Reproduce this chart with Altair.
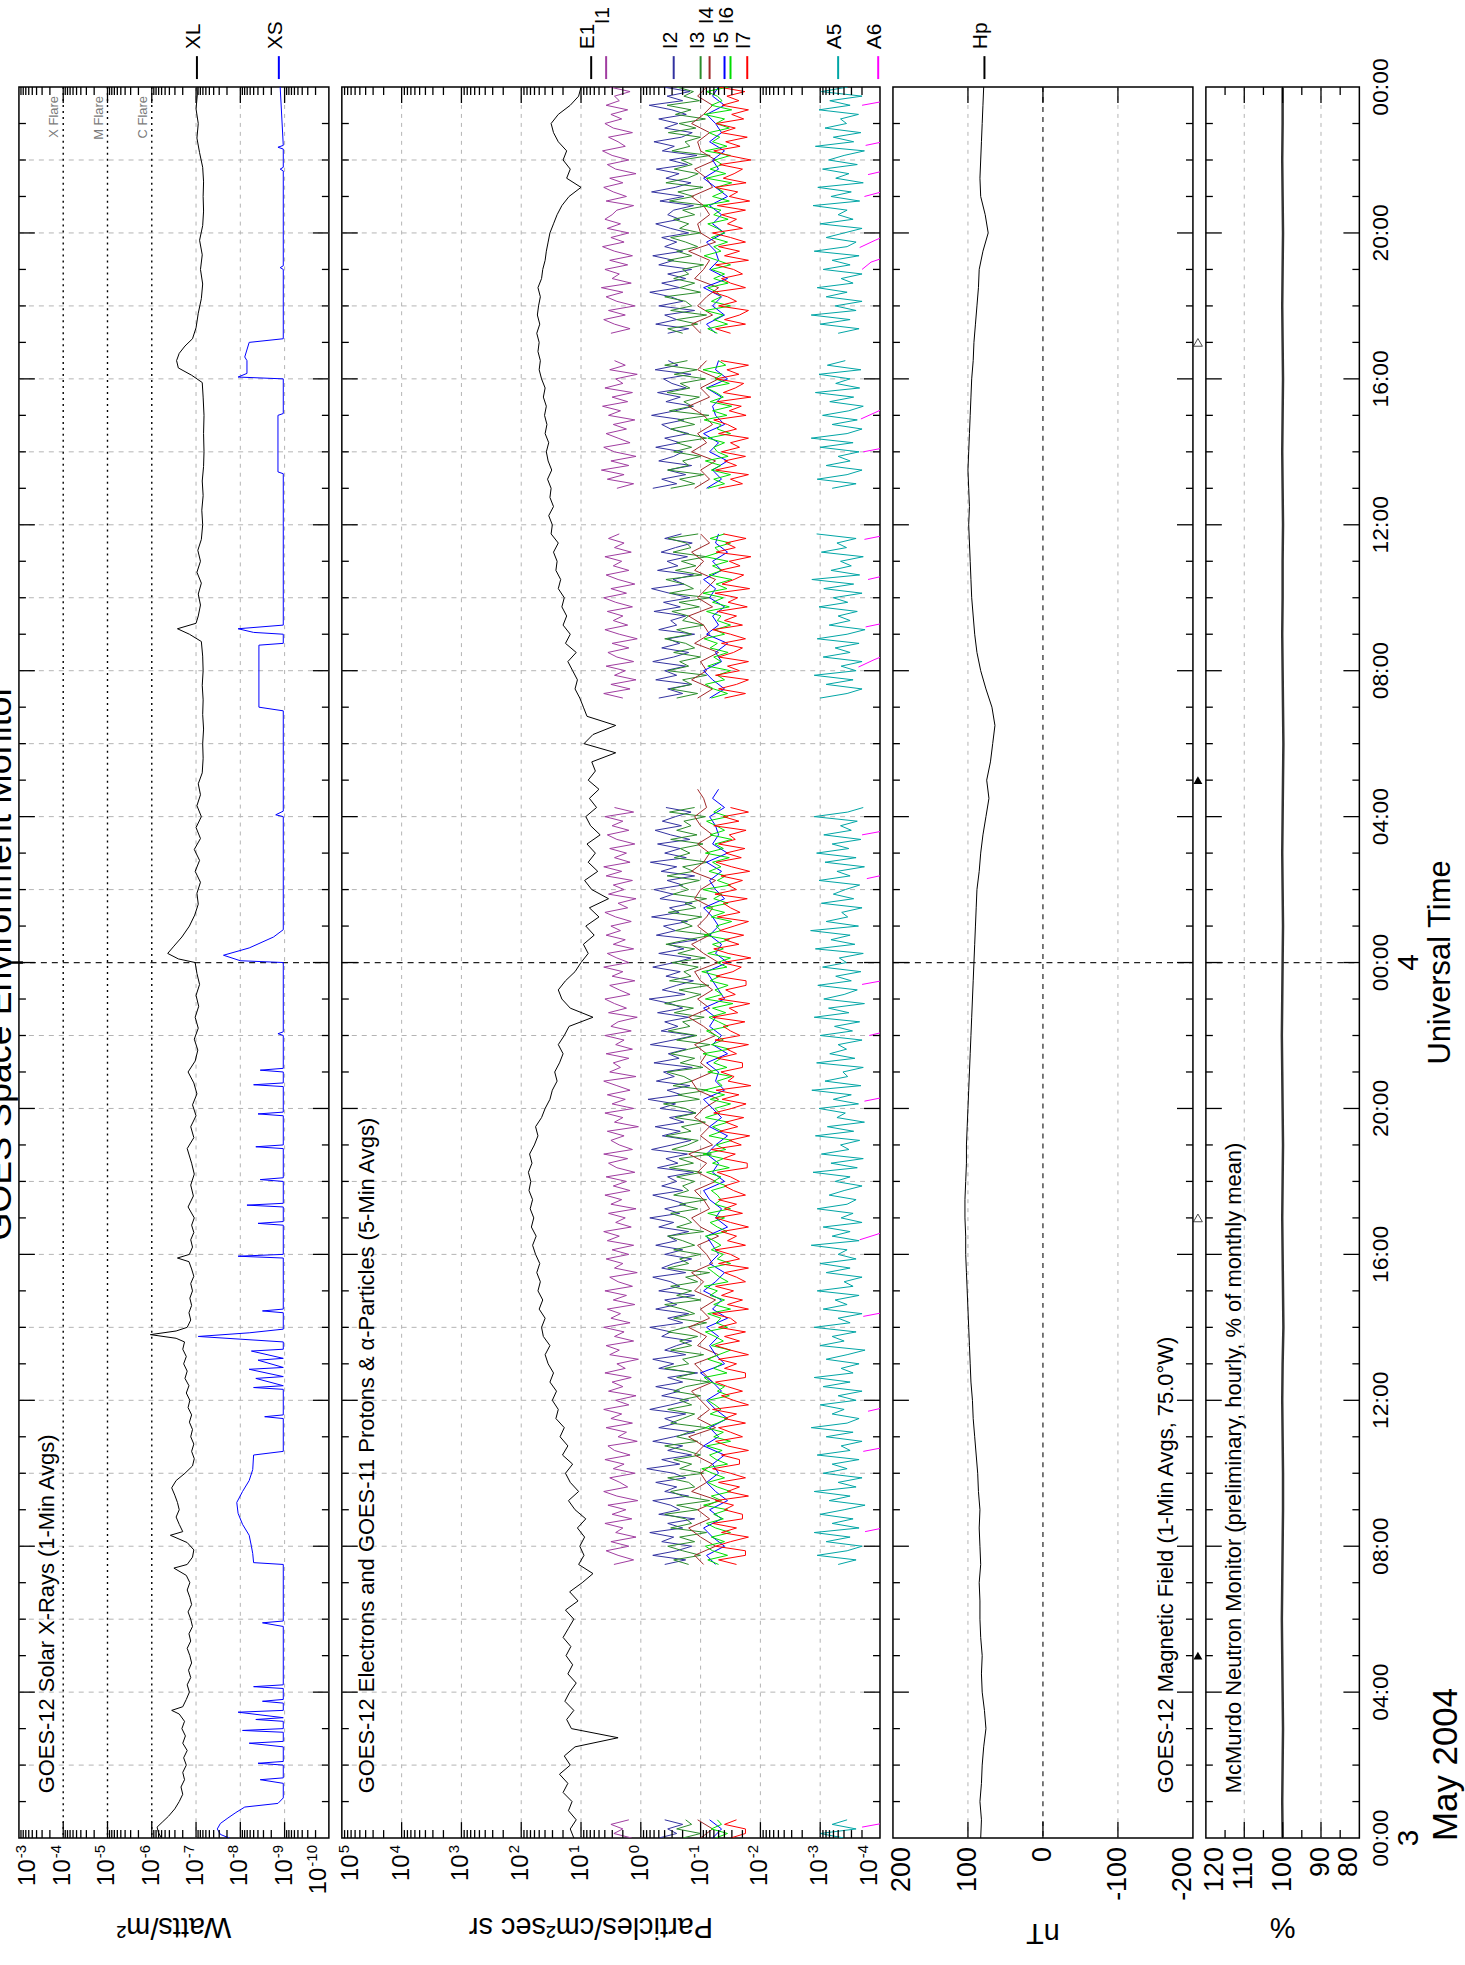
import altair as alt
import pandas as pd

FONT = "Liberation Sans"
H = 1757
W1, W2, W3, W4 = 311, 540, 301, 154

# ------------------------------------------------------------------ texts
TITLE = "GOES Space Environment Monitor"
PANEL_TEXT = ["GOES-12 Solar X-Rays (1-Min Avgs)",
              "GOES-12 Electrons and GOES-11 Protons & \u03b1-Particles (5-Min Avgs)",
              "GOES-12 Magnetic Field (1-Min Avgs, 75.0\u00b0W)",
              "McMurdo Neutron Monitor (preliminary, hourly, % of monthly mean)"]
AXIS_TITLES = ["Watts/m\u00b2", "Particles/cm\u00b2sec sr", "nT", "%"]
TIME_TICKS = [0, 4, 8, 12, 16, 20, 24, 28, 32, 36, 40, 44, 48]
TIME_LABELS = ["00:00", "04:00", "08:00", "12:00", "16:00", "20:00", "00:00",
               "04:00", "08:00", "12:00", "16:00", "20:00", "00:00"]
DAY_T = [0, 24]
DAY_LABELS = ["3", "4"]
MONTH_LABEL = "May 2004"
TIME_TITLE = "Universal Time"
XRAY_EXP = [-3, -4, -5, -6, -7, -8, -9, -10]
PART_EXP = [5, 4, 3, 2, 1, 0, -1, -2, -3, -4]
MAG_LABELS = [200, 100, 0, -100, -200]
NM_LABELS = [120, 110, 100, 90, 80]
FLARE_NAMES = ["X Flare", "M Flare", "C Flare"]
FLARE_EXP = [-4, -5, -6]

# ------------------------------------------------------------------ data
# time in hours after 2004-05-03 00:00 UT ; x-ray values are log10(W/m2)
XL = [(0.0,-6.22),(0.15,-6.15),(0.3,-6.12),(0.45,-6.25),(0.6,-6.38),(0.8,-6.52),(1.0,-6.62),(1.2,-6.70),
      (1.4,-6.66),(1.6,-6.74),(1.8,-6.70),(2.0,-6.78),(2.2,-6.72),(2.4,-6.80),(2.6,-6.70),(2.8,-6.76),
      (3.0,-6.68),(3.2,-6.74),(3.4,-6.62),(3.5,-6.45),(3.6,-6.70),(3.8,-6.78),(4.0,-6.85),(4.2,-6.80),
      (4.4,-6.88),(4.6,-6.83),(4.8,-6.90),(5.0,-6.86),(5.2,-6.80),(5.4,-6.88),(5.6,-6.84),(5.8,-6.92),
      (6.0,-6.88),(6.2,-6.82),(6.4,-6.90),(6.6,-6.86),(6.8,-6.80),(7.0,-6.86),(7.2,-6.78),(7.4,-6.50),
      (7.5,-6.80),(7.7,-6.92),(7.9,-6.95),(8.1,-6.80),(8.3,-6.42),(8.4,-6.70),(8.6,-6.62),(8.8,-6.55),
      (9.0,-6.62),(9.2,-6.58),(9.4,-6.52),(9.6,-6.45),(9.8,-6.55),(10.0,-6.75),(10.2,-6.92),(10.4,-6.96),
      (10.6,-6.90),(10.8,-6.95),(11.0,-6.88),(11.2,-6.92),(11.4,-6.85),(11.6,-6.90),(11.8,-6.82),(12.0,-6.86),
      (12.2,-6.78),(12.4,-6.84),(12.6,-6.75),(12.8,-6.80),(13.0,-6.72),(13.2,-6.78),(13.4,-6.70),(13.6,-6.74),
      (13.7,-6.55),(13.8,-5.97),(13.9,-6.55),(14.0,-6.80),(14.2,-6.88),(14.4,-6.84),(14.6,-6.90),(14.8,-6.86),
      (15.0,-6.92),(15.2,-6.88),(15.4,-6.95),(15.6,-6.90),(15.8,-6.84),(15.9,-6.58),(16.0,-6.85),(16.2,-6.92),
      (16.4,-6.88),(16.6,-6.95),(16.8,-6.90),(17.0,-6.96),(17.3,-6.82),(17.6,-6.94),(17.9,-6.88),(18.2,-6.96),
      (18.5,-6.90),(18.9,-6.80),(19.2,-6.95),(19.5,-6.88),(19.8,-7.00),(20.1,-6.92),(20.4,-7.02),(20.7,-6.95),
      (21.0,-6.82),(21.3,-6.98),(21.6,-7.04),(21.9,-6.96),(22.2,-7.05),(22.5,-6.98),(22.8,-7.06),(23.1,-7.00),
      (23.4,-7.08),(23.7,-7.02),(24.0,-6.98),(24.1,-6.60),(24.25,-6.36),(24.45,-6.50),(24.7,-6.68),(25.0,-6.85),
      (25.3,-6.97),(25.6,-7.05),(25.9,-7.02),(26.2,-7.10),(26.5,-6.98),(26.8,-7.08),(27.1,-6.96),(27.4,-7.10),
      (27.7,-7.00),(28.0,-7.12),(28.3,-7.02),(28.6,-7.10),(28.9,-7.05),(29.2,-7.14),(29.6,-7.16),(30.0,-7.15),
      (30.4,-7.17),(30.8,-7.15),(31.2,-7.16),(31.6,-7.14),(32.0,-7.16),(32.4,-7.15),(32.8,-7.12),(33.0,-6.85),
      (33.15,-6.58),(33.3,-7.00),(33.5,-7.05),(33.8,-7.10),(34.1,-7.05),(34.4,-7.12),(34.7,-7.02),(35.0,-7.10),
      (35.3,-7.04),(35.6,-7.12),(36.0,-7.15),(36.4,-7.13),(36.8,-7.16),(37.2,-7.14),(37.6,-7.17),(38.0,-7.18),
      (38.5,-7.17),(39.0,-7.18),(39.5,-7.16),(39.9,-7.14),(40.1,-6.90),(40.3,-6.60),(40.5,-6.56),(40.7,-6.62),
      (40.9,-6.75),(41.1,-6.92),(41.4,-7.00),(41.8,-7.05),(42.2,-7.12),(42.6,-7.15),(43.0,-7.10),(43.4,-7.14),
      (43.8,-7.08),(44.2,-7.15),(44.6,-7.17),(45.0,-7.16),(45.4,-7.17),(45.8,-7.15),(46.2,-7.08),(46.6,-7.02),
      (47.0,-7.05),(47.4,-7.00),(47.8,-7.03),(48.0,-7.02)]

XS = [(0.0,-7.75),(0.1,-7.55),(0.25,-7.48),(0.4,-7.55),(0.55,-7.72),(0.7,-7.90),(0.85,-8.10),(0.95,-8.85),
      (1.1,-8.97),(1.5,-8.97),(1.6,-8.45),(1.65,-8.97),(2.0,-8.97),(2.05,-8.40),(2.1,-8.97),(2.5,-8.97),
      (2.6,-8.20),(2.65,-8.97),(2.9,-8.97),(2.95,-8.05),(3.0,-8.97),(3.2,-8.97),(3.25,-8.35),(3.3,-8.97),
      (3.45,-7.95),(3.5,-8.97),(3.7,-8.97),(3.75,-8.50),(3.8,-8.97),(4.1,-8.97),(4.15,-8.30),(4.2,-8.97),
      (5.8,-8.97),(5.9,-8.50),(5.95,-8.97),(7.5,-8.97),(7.55,-8.30),(7.8,-8.28),(8.0,-8.25),(8.3,-8.20),
      (8.6,-8.05),(8.9,-7.95),(9.2,-7.92),(9.5,-8.05),(9.8,-8.20),(10.1,-8.28),(10.5,-8.30),(10.6,-8.97),
      (11.5,-8.97),(11.55,-8.55),(11.6,-8.97),(12.3,-8.97),(12.35,-8.30),(12.4,-8.97),(12.6,-8.35),(12.65,-8.97),
      (12.85,-8.20),(12.9,-8.97),(13.1,-8.40),(13.15,-8.97),(13.35,-8.25),(13.4,-8.97),(13.6,-8.97),(13.75,-7.05),
      (13.85,-8.20),(13.95,-8.97),(14.4,-8.97),(14.45,-8.50),(14.5,-8.97),(15.9,-8.97),(15.95,-7.95),(16.0,-8.97),
      (16.8,-8.97),(16.85,-8.40),(16.9,-8.97),(17.3,-8.97),(17.35,-8.15),(17.4,-8.97),(18.0,-8.97),(18.05,-8.45),
      (18.1,-8.97),(18.9,-8.97),(18.95,-8.35),(19.0,-8.97),(19.8,-8.97),(19.85,-8.40),(19.9,-8.97),(20.6,-8.97),
      (20.65,-8.30),(20.7,-8.97),(21.0,-8.97),(21.05,-8.45),(21.1,-8.97),(22.0,-8.97),(22.05,-8.85),(22.1,-8.97),
      (24.0,-8.97),(24.05,-8.00),(24.2,-7.62),(24.4,-8.20),(24.7,-8.75),(24.9,-8.97),(28.0,-8.97),(28.05,-8.80),
      (28.15,-8.97),(30.9,-8.97),(31.0,-8.42),(32.7,-8.42),(32.75,-8.97),(33.0,-8.97),(33.05,-8.30),(33.15,-7.95),
      (33.25,-8.97),(37.4,-8.97),(37.45,-8.85),(39.0,-8.85),(39.05,-8.97),(40.0,-8.97),(40.05,-7.95),(40.15,-8.15),
      (40.5,-8.15),(40.6,-8.10),(41.0,-8.20),(41.1,-8.97),(43.0,-8.97),(43.05,-8.90),(43.1,-8.97),(45.7,-8.97),
      (45.75,-8.90),(45.8,-8.97),(46.3,-8.97),(46.35,-8.85),(46.4,-8.97),(48.0,-8.90)]

# particle fluxes: log10 x 100
E1_STEP = 0.25
E1 = [112,118,108,121, 115,130,122,136, 118,128,110,38, 116,124,112,127, 119,108,122,114, 125,117,130,121,
      112,126,105,119, 98,80,104,95, 102,94,106,92, 110,121,104,118, 126,114,131,122, 135,128,142,138,
      148,141,152,146, 155,160,152,163, 166,160,170,164, 172,168,174,169, 176,181,175,183, 179,185,181,187,
      184,188,182,186, 178,172,176,166, 160,152,148,140, 144,136,130,138, 128,120,80,118, 132,138,126,110,
      100,88,96,78, 92,70,86,54, 82,94,72,88, 76,90,68,84, 92,74,86,70, 88,76,82,42,
      95,80,42,90, 96,102,110,106, 114,122,108,126, 118,130,124,132, 128,138,134,142, 140,146,138,150,
      148,154,146,152, 150,156,149,155, 158,154,160,157, 161,158,163,160, 166,170,168,172, 170,174,169,173,
      171,168,172,166, 164,160,158,155, 152,146,140,132, 120,100,124,118, 130,124,138,146, 150,138,118,104, 100]

# proton / alpha channels: data segments start at these hours
SEG_START = [0.0, 7.5, 31.25, 37.0, 41.25]
FAST = 0.125   # 7.5-minute samples
SLOW = 0.25    # 15-minute samples
I1 = [[15,45,30,50,20],
      [45,12,38,58,20,50,8,42,30,60,15,48,25,55,5,40,62,22,35,52,
       10,46,28,60,18,44,55,6,38,24,58,14,50,32,62,20,42,8,54,30,
       48,16,60,26,40,4,52,36,58,12,44,28,62,18,50,34,56,10,46,24,
       60,14,38,52,6,44,30,58,20,48,12,56,36,62,16,42,26,54,8,50,
       32,60,18,46,24,58,10,40,54,22,62,14,36,50,28,56,4,44,30,60,
       12,48,26,56,18,40,62,8,52,34,46,20,58,14,42,28,60,16,50,38,
       6,54,24,44,60,18,36,52,10,48,30,62,20,40,56,12,46,26,58,34,
       50,16,42,60,22,38,8,54,28,46,14,58,32,62,18,44,24,52,10,40,
       56,20,48,30,60,12,44],
      [30,62,18,50,8,44,26,58,12,40,55,20,48,6,36,60,22,46,30,56,14,42,62,24,50,10,38,58,20,46,32,60,16,44,28,54,36],
      [40,12,56,28,66,20,50,8,44,62,18,38,58,24,46,10,54,34,64,22,48,14,60,30,42,6,52,26,44],
      [50,18,44,62,26,54,10,40,58,30,66,16,48,36,60,22,52,14,44,64,28,50,20,56,34,60,48,40,12,58,24,46,62,30,52,8,
       42,56,20,48,64,26,38,54,14,46,60,32,50,22,58,36,44,18,52]]
I2 = [[-30,-60,-45,-70,-40],
      [-40,-75,-20,-60,-85,-35,-55,-15,-70,-45,-90,-30,-65,-50,-20,-80,-40,-60,-25,-75,
       -55,-10,-65,-35,-85,-45,-70,-20,-55,-90,-30,-60,-40,-75,-15,-50,-80,-35,-65,-25,
       -70,-45,-95,-30,-55,-20,-75,-40,-60,-85,-35,-50,-15,-70,-45,-80,-25,-60,-40,-90,
       -30,-65,-50,-20,-75,-35,-55,-85,-40,-70,-25,-60,-45,-80,-30,-55,-15,-65,-40,-75,
       -50,-20,-70,-35,-60,-45,-88,-28,-62,-42,-78,-18,-52,-84,-36,-66,-24,-72,-48,-92,
       -32,-58,-12,-68,-44,-82,-26,-56,-38,-86,-22,-64,-46,-76,-16,-54,-90,-34,-62,-40,
       -80,-28,-70,-50,-14,-74,-36,-60,-88,-42,-66,-20,-56,-84,-30,-72,-46,-94,-26,-58,
       -38,-78,-18,-64,-48,-86,-32,-54,-22,-70,-44,-90,-34,-60,-16,-76,-40,-66,-28,-82,
       -50,-24,-68,-36,-58,-84,-42],
      [-30,-70,-45,-85,-25,-60,-40,-75,-20,-55,-80,-35,-65,-45,-90,-30,-60,-50,-75,-22,-66,-38,-82,-48,-18,-72,-54,
       -88,-28,-62,-44,-78,-34,-58,-86,-40,-68],
      [-20,-60,-35,-75,-45,-85,-30,-55,-70,-25,-65,-40,-80,-50,-35,-72,-18,-58,-88,-42,-66,-28,-76,-52,-38,-84,-24,-62,-46],
      [-45,-80,-25,-60,-40,-90,-30,-70,-50,-15,-65,-35,-75,-45,-85,-30,-55,-20,-70,-40,-60,-35,-80,-50,-25,-65,-45,
       -55,-88,-32,-72,-18,-58,-84,-42,-64,-26,-78,-48,-94,-36,-56,-22,-68,-86,-40,-62,-30,-76,-52,-14,-70,-44,-82,-38]]
I3 = [[-70,-100,-60,-85,-75],
      [-80,-55,-100,-70,-45,-90,-65,-110,-50,-85,-75,-40,-95,-60,-115,-70,-50,-90,-80,-45,
       -105,-65,-85,-55,-100,-75,-40,-95,-60,-80,-110,-50,-70,-90,-45,-85,-65,-100,-55,-75,
       -115,-60,-90,-40,-80,-70,-105,-50,-85,-65,-95,-45,-75,-110,-55,-90,-70,-40,-100,-60,
       -85,-50,-95,-75,-115,-45,-80,-65,-100,-55,-90,-70,-45,-105,-60,-85,-75,-50,-95,-65,
       -110,-55,-80,-70,-90,-60,-102,-48,-88,-64,-118,-52,-78,-96,-42,-84,-68,-108,-58,-92,
       -74,-38,-98,-62,-112,-54,-86,-72,-44,-104,-66,-90,-50,-80,-116,-60,-94,-46,-82,-70,
       -106,-56,-88,-40,-76,-100,-64,-114,-48,-84,-72,-96,-52,-108,-62,-90,-42,-78,-118,-58,
       -86,-68,-102,-46,-92,-74,-110,-54,-80,-64,-98,-44,-88,-70,-112,-56,-82,-66,-104,-50,
       -94,-60,-84,-72,-108,-48,-90],
      [-60,-95,-50,-85,-70,-110,-45,-80,-65,-100,-55,-90,-75,-40,-85,-60,-105,-70,-80,-52,-98,-64,-116,-48,-88,-72,
       -42,-102,-58,-92,-68,-110,-54,-84,-76,-46,-96],
      [-50,-90,-65,-105,-45,-80,-70,-100,-55,-85,-60,-110,-75,-50,-90,-62,-114,-48,-86,-72,-98,-44,-82,-66,-108,-56,
       -94,-40,-78],
      [-70,-45,-95,-60,-110,-50,-85,-75,-40,-100,-65,-90,-55,-80,-70,-105,-45,-85,-60,-95,-75,-50,-100,-65,-80,-55,
       -90,-70,-112,-48,-88,-62,-104,-42,-78,-96,-56,-86,-68,-116,-52,-82,-74,-100,-46,-92,-64,-108,-58,-84,-44,-98,
       -72,-88,-60]]
I4 = [[-100,-120,-95],
      [-105,-90,-125,-100,-80,-115,-95,-130,-85,-110,-100,-120,-90,-105,-80,-125,-95,-115,-100,-85,-120,-105,-90,-130,-95,-110,-80,
       -115,-100,-125,-90,-105,-85,-120,-110,-95,-130,-100,-85,-115,-105,-90,-125,-95,-110,-80,-120,-100,-115,-90,-105,-130,-95,-85,
       -120,-100,-110,-90,-125,-105,-80,-115,-95,-120,-100,-90,-130,-105,-85,-115,-95,-110,-120,-90,-100,-125,-85,-105,-115,-95,-120,
       -100,-90,-110,-105,-95],
      [-95,-120,-85,-110,-100,-130,-90,-115,-105,-80,-120,-95,-110,-125,-90,-105,-85,-115,-100],
      [-90,-115,-100,-125,-85,-110,-95,-120,-105,-80,-115,-100,-130,-95,-110],
      [-100,-85,-120,-95,-110,-130,-90,-105,-115,-80,-125,-100,-95,-115,-105,-85,-120,-110,-90,-125,-100,-95,-115,-85,-105,-120,-95,-110]]
I5 = [[-120,-135,-115],
      [-125,-110,-140,-120,-105,-135,-115,-145,-125,-110,-130,-120,-140,-105,-130,-115,-145,-125,-110,-135,-120,-100,-140,-125,-115,
       -130,-110,-145,-120,-135,-105,-125,-140,-115,-130,-120,-110,-145,-125,-135,-115,-105,-140,-120,-130,-110,-125,-145,-115,-135,
       -120,-105,-140,-125,-130,-110,-145,-120,-135,-115,-125,-105,-140,-130,-120,-110,-145,-125,-135,-115,-130,-120,-105,-140,-125,
       -115,-135,-110,-145,-120,-130,-125,-115,-140,-120,-130],
      [-115,-140,-120,-105,-135,-125,-145,-110,-130,-120,-140,-115,-125,-105,-135,-120,-145,-125,-130],
      [-110,-135,-120,-145,-115,-130,-105,-140,-125,-120,-135,-110,-145,-125,-130],
      [-125,-110,-140,-120,-135,-105,-145,-115,-130,-125,-110,-140,-120,-135,-115,-145,-125,-105,-130,-120,-140,-115,-135,-125,-110,-140,-120,-130]]
I6 = [[-125,-145,-118,-135,-128],
      [-130,-112,-145,-120,-108,-140,-118,-150,-125,-110,-138,-122,-145,-105,-135,-118,-150,-128,-112,-140,
       -120,-102,-145,-126,-115,-136,-110,-150,-122,-138,-108,-128,-145,-116,-134,-124,-112,-148,-128,-140,
       -116,-106,-144,-122,-136,-112,-130,-150,-118,-138,-124,-108,-145,-126,-134,-112,-150,-122,-140,-116,
       -128,-106,-146,-132,-122,-112,-150,-128,-138,-118,-134,-122,-108,-144,-128,-116,-140,-112,-150,-124,
       -134,-128,-118,-144,-122,-134,-110,-148,-120,-138,-104,-142,-126,-152,-114,-136,-120,-146,-108,-132,
       -124,-150,-116,-140,-106,-136,-128,-152,-112,-144,-122,-134,-104,-148,-118,-138,-126,-110,-146,-130,
       -114,-142,-120,-154,-108,-136,-124,-146,-116,-132,-102,-144,-128,-150,-112,-138,-120,-148,-106,-134,
       -126,-152,-118,-140,-110,-146,-122,-136,-104,-150,-128,-142,-114,-134,-120,-148,-108,-138,-124,-152,
       -116,-140,-126,-110,-146,-122,-134],
      [-118,-145,-122,-108,-140,-128,-150,-112,-134,-122,-146,-116,-128,-106,-140,-124,-150,-128,-134,-110,-148,-120,
       -138,-104,-144,-126,-152,-114,-136,-120,-146,-108,-132,-124,-150,-116,-140],
      [-112,-140,-122,-150,-118,-134,-108,-146,-128,-122,-140,-112,-150,-128,-134,-106,-144,-120,-152,-116,-138,-126,
       -110,-148,-124,-136,-104,-142,-130],
      [-128,-112,-145,-122,-138,-108,-150,-118,-134,-128,-112,-146,-122,-140,-118,-150,-128,-106,-134,-122,-145,-118,
       -140,-128,-112,-146,-122,-134,-104,-148,-120,-138,-126,-152,-110,-142,-116,-136,-124,-150,-108,-144,-120,-132,
       -114,-148,-126,-140,-106,-152,-118,-136,-128,-110,-146]]
I7 = [[-150,-175,-175,-140,-160],
      [-160,-130,-175,-175,-125,-150,-180,-135,-160,-120,-170,-170,-140,-155,-125,-180,-145,-165,-130,-175,
       -150,-120,-165,-165,-135,-180,-145,-125,-170,-150,-130,-175,-140,-160,-120,-180,-155,-135,-170,-145,
       -125,-175,-175,-140,-160,-130,-180,-150,-125,-165,-140,-175,-130,-160,-150,-120,-180,-145,-170,-135,
       -155,-125,-175,-160,-140,-180,-130,-165,-150,-125,-175,-145,-160,-135,-180,-150,-125,-170,-140,-160,
       -130,-175,-155,-140,-165,-150,-128,-178,-178,-138,-158,-118,-168,-148,-182,-132,-162,-142,-172,-122,
       -152,-176,-136,-164,-126,-184,-146,-156,-134,-170,-170,-128,-160,-144,-180,-124,-166,-150,-138,-174,
       -120,-162,-148,-182,-130,-158,-142,-176,-176,-126,-154,-168,-136,-184,-146,-122,-164,-140,-172,-132,
       -156,-180,-128,-166,-150,-138,-178,-124,-160,-146,-170,-134,-182,-152,-126,-168,-142,-174,-130,-158,
       -148,-176,-122,-164,-138,-180,-150],
      [-140,-175,-130,-160,-180,-125,-165,-145,-180,-130,-155,-170,-135,-175,-150,-120,-170,-140,-160,-128,-178,-146,
       -162,-124,-182,-136,-156,-172,-132,-166,-148,-184,-126,-158,-142,-176,-138],
      [-130,-170,-150,-180,-125,-160,-140,-175,-135,-165,-150,-180,-130,-160,-145,-122,-176,-148,-168,-128,-184,-138,
       -158,-172,-126,-164,-144,-180,-134],
      [-150,-125,-175,-140,-165,-180,-130,-160,-145,-120,-175,-150,-135,-170,-155,-125,-180,-140,-165,-130,-175,-150,
       -120,-170,-145,-160,-135,-175,-128,-182,-148,-162,-124,-176,-138,-156,-170,-132,-184,-146,-122,-166,-142,-178,
       -134,-158,-126,-172,-152,-180,-136,-164,-144,-174,-130]]
A5 = [[-340,-300,-360,-320,-345],
      [-330,-360,-295,-345,-370,-310,-350,-290,-365,-320,-355,-300,-340,-375,-315,-350,-290,-360,-330,-370,
       -305,-345,-320,-365,-295,-350,-335,-370,-310,-355,-285,-345,-365,-320,-340,-300,-360,-330,-370,-305,
       -350,-290,-355,-335,-365,-310,-345,-375,-300,-340,-320,-360,-290,-350,-330,-370,-305,-345,-325,-365,
       -295,-355,-340,-370,-310,-350,-300,-360,-330,-345,-285,-365,-320,-350,-305,-370,-335,-355,-295,-345,
       -360,-315,-340,-370,-325,-350,-288,-362,-318,-372,-302,-348,-334,-366,-292,-356,-312,-374,-328,-342,
       -298,-364,-322,-352,-286,-368,-308,-346,-338,-372,-294,-358,-316,-344,-330,-370,-300,-354,-324,-366,
       -290,-348,-314,-374,-306,-340,-362,-296,-352,-326,-368,-304,-344,-332,-372,-292,-358,-318,-350,-284,
       -364,-310,-346,-336,-370,-302,-356,-322,-342,-366,-298,-350,-328,-374,-308,-360,-294,-348,-320,-368,
       -306,-352,-334,-362,-290,-346,-372],
      [-300,-345,-370,-310,-355,-290,-360,-335,-370,-305,-350,-325,-365,-295,-345,-375,-315,-350,-330,-362,-298,-346,
       -322,-370,-306,-356,-286,-366,-318,-352,-334,-372,-302,-344,-328,-360,-294],
      [-320,-360,-295,-345,-370,-310,-350,-330,-365,-300,-355,-285,-345,-370,-320,-362,-304,-348,-372,-316,-356,-292,
       -366,-326,-350,-298,-368,-312,-342],
      [-330,-365,-300,-350,-285,-360,-325,-370,-310,-345,-295,-355,-335,-370,-305,-350,-320,-365,-290,-345,-360,-310,
       -340,-370,-300,-355,-330,-345,-288,-366,-318,-352,-296,-372,-326,-348,-304,-362,-314,-340,-374,-292,-356,-322,
       -368,-308,-344,-334,-364,-298,-350,-316,-370,-302,-346]]
A6 = [[(0.3,-3.70),(0.45,-4.2)], [(8.4,-3.75),(8.55,-4.2)], [(10.6,-3.72),(10.75,-4.2)], [(11.7,-3.80),(11.85,-4.2)],
      [(14.3,-3.72),(14.45,-4.2)], [(16.4,-3.66),(16.55,-3.95),(16.7,-4.2)], [(20.2,-3.74),(20.35,-4.2)],
      [(22.0,-3.82),(22.15,-4.2)], [(23.4,-3.70),(23.55,-4.2)], [(26.3,-3.78),(26.45,-4.2)], [(27.5,-3.70),(27.65,-4.2)],
      [(32.1,-3.64),(32.3,-3.9),(32.5,-4.2)], [(33.2,-3.76),(33.35,-4.2)], [(34.5,-3.80),(34.65,-4.2)],
      [(35.6,-3.74),(35.75,-4.2)], [(38.0,-3.72),(38.15,-4.2)], [(38.9,-3.68),(39.1,-3.95),(39.3,-4.2)],
      [(43.0,-3.70),(43.2,-3.85),(43.4,-4.2)], [(43.6,-3.66),(43.8,-3.92),(44.0,-4.2)], [(45.0,-3.74),(45.2,-4.2)],
      [(45.6,-3.80),(45.75,-4.2)], [(46.4,-3.76),(46.55,-4.2)], [(47.5,-3.70),(47.65,-4.2)]]

# Hp magnetic field (nT), every 30 minutes
HP_STEP = 0.5
HP = [83,82,84,82,81,79,76,78,81,82,81,83,84,84,85,83,84,85,84,86,87,89,91,93,94,96,97,98,99,100,
      101,102,103,103,104,104,103,102,102,101,100,99,98,97,96,95,94,93,92,91,90,89,88,85,83,80,76,72,75,70,
      67,64,68,76,83,88,91,93,95,96,97,98,99,98,99,100,99,98,97,96,95,93,92,90,88,86,85,80,73,77,
      83,84,83,82,81,80,79]
# McMurdo neutron monitor (% of monthly mean), hourly
NM = [100.0,100.1,100.0,99.9,100.0,100.1,100.2,100.1,100.0,99.9,99.9,100.0,100.1,100.0,99.8,99.9,100.0,100.1,
      100.0,99.9,100.0,100.1,100.2,100.1,100.0,99.9,100.0,100.1,100.0,99.9,99.8,99.9,100.0,100.1,100.0,100.0,
      99.9,100.0,100.1,100.0,99.9,100.0,100.1,100.0,99.9,100.0,100.1,100.0,100.0]
# local midnight (filled) / noon (open) markers for GOES-12
MIDNIGHT_T = [5, 29]
NOON_T = [17, 41]

# legends (label, position on value axis, colour, raised row)
LEG1 = [("XL", -7.02, "black", False), ("XS", -8.87, "#0000ff", False)]
LEG2 = [("E1", 0.83, "black", False), ("I1", 0.58, "#a03ca0", True), ("I2", -0.55, "#3232a0", False),
        ("I3", -1.0, "#2a8c2a", False), ("I4", -1.15, "#a02828", True), ("I5", -1.4, "#0000ff", False),
        ("I6", -1.5, "#00dd00", True), ("I7", -1.78, "#ff0000", False), ("A5", -3.3, "#00a5a5", False),
        ("A6", -3.97, "#ff00ff", False)]
LEG3 = [("Hp", 78, "black", False)]

# ------------------------------------------------------------------ helpers
ONE = pd.DataFrame({"a": [0]})
YS = alt.Scale(domain=[0, 48], nice=False, zero=False)
Y = alt.Y("t:Q", scale=YS, axis=None)
CUR = {}


def X(scale):
    return alt.X("v:Q", scale=scale, axis=None)


def hgrid(width, full=True):
    out = []
    if full:
        df = pd.DataFrame({"t": [h for h in range(2, 48, 2) if h != 24]})
        out.append(alt.Chart(df).mark_rule(color="#b4b4b4", strokeDash=[5, 5], strokeWidth=1)
                   .encode(y=Y, x=alt.value(0), x2=alt.value(width)))
    out.append(alt.Chart(pd.DataFrame({"t": [24]})).mark_rule(color="#222222", strokeDash=[6, 5], strokeWidth=1.2)
               .encode(y=Y, x=alt.value(0), x2=alt.value(width)))
    return out


def vgrid(vals, scale, color, dash, sw=1.0):
    return alt.Chart(pd.DataFrame({"v": vals})).mark_rule(color=color, strokeDash=dash, strokeWidth=sw).encode(
        x=X(scale), y=alt.value(0), y2=alt.value(H))


def time_ticks(width):
    out = []
    minor = pd.DataFrame({"t": [h for h in range(1, 48) if h % 4]})
    major = pd.DataFrame({"t": [h for h in range(4, 48, 4)]})
    for df, L in [(minor, 7), (major, 16)]:
        out.append(alt.Chart(df).mark_rule(color="black", strokeWidth=1.3).encode(
            y=Y, x=alt.value(0), x2=alt.value(L)))
        out.append(alt.Chart(df).mark_rule(color="black", strokeWidth=1.3).encode(
            y=Y, x=alt.value(width - L), x2=alt.value(width)))
    return out


def value_ticks(vals, L, scale):
    df = pd.DataFrame({"v": vals})
    return [alt.Chart(df).mark_rule(color="black", strokeWidth=1.3).encode(x=X(scale), y=alt.value(0), y2=alt.value(L)),
            alt.Chart(df).mark_rule(color="black", strokeWidth=1.3).encode(x=X(scale), y=alt.value(H - L), y2=alt.value(H))]


def line_from_df(df, color, sw=1.0):
    return alt.Chart(df).mark_line(color=color, strokeWidth=sw, clip=True).encode(
        x=X(CUR["s"]), y=Y, detail="seg:N", order="t:Q")


def seg_df(segs, step):
    rows = []
    for k, (s, vals) in enumerate(zip(SEG_START, segs)):
        for i, v in enumerate(vals):
            rows.append({"t": s + i * step, "v": 10 ** (v / 100.0), "seg": k})
    return pd.DataFrame(rows)


def pair_df(pairs, log=True):
    return pd.DataFrame({"t": [p[0] for p in pairs], "v": [10 ** p[1] if log else p[1] for p in pairs], "seg": 0})


def legend_layers(items, scale, log):
    df = pd.DataFrame({"name": [i[0] for i in items], "v": [10 ** i[1] if log else i[1] for i in items],
                       "c": [i[2] for i in items], "r": [i[3] for i in items]})
    out = [alt.Chart(df).mark_rule(strokeWidth=2).encode(x=X(scale), y=alt.value(-31), y2=alt.value(-8),
                                                         color=alt.Color("c:N", scale=None))]
    for flag, yv in [(False, -38), (True, -63)]:
        sub = df[df["r"] == flag]
        if len(sub):
            out.append(alt.Chart(sub).mark_text(angle=270, align="left", baseline="middle", font=FONT,
                                                fontSize=21, dy=-3).encode(x=X(scale), y=alt.value(yv), text="name:N"))
    return out


def edge_shift(i, n):
    return 9 if i == 0 else (-10 if i == n - 1 else 0)


FS_BASE, FS_EXP = 24, 15


def exp_width(s):
    return sum(0.333 if c == "-" else 0.556 for c in s) * FS_EXP


def log_labels(exps, scale):
    groups = {}
    n = len(exps)
    for i, e in enumerate(exps):
        s = str(e)
        groups.setdefault((round(exp_width(s), 2), edge_shift(i, n)), []).append(e)
    out = []
    for (w, sh), es in groups.items():
        df = pd.DataFrame({"v": [10.0 ** e for e in es], "e": [str(e) for e in es]})
        out.append(alt.Chart(df).mark_text(angle=270, align="right", baseline="middle", font=FONT, fontSize=FS_EXP,
                                           dy=sh - 7).encode(x=X(scale), y=alt.value(H + 7), text="e:N"))
        out.append(alt.Chart(df).mark_text(text="10", angle=270, align="right", baseline="middle", font=FONT,
                                           fontSize=FS_BASE, dx=-(w + 1), dy=sh).encode(x=X(scale), y=alt.value(H + 7)))
    return out


def plain_labels(vals, scale):
    out = []
    n = len(vals)
    groups = {}
    for i, v in enumerate(vals):
        groups.setdefault(edge_shift(i, n), []).append(v)
    for sh, vs in groups.items():
        df = pd.DataFrame({"v": vs, "lab": [str(v) for v in vs]})
        out.append(alt.Chart(df).mark_text(angle=270, align="right", baseline="middle", font=FONT, fontSize=27,
                                           dy=sh).encode(x=X(scale), y=alt.value(H + 9), text="lab:N"))
    return out


def panel_text(text, xpix):
    return alt.Chart(ONE).mark_text(text=text, angle=270, align="left", baseline="alphabetic", font=FONT,
                                    fontSize=22).encode(x=alt.value(xpix), y=alt.value(1712))


def axis_title(text, width, shift=0, yy=H + 80):
    return alt.Chart(ONE).mark_text(text=text, angle=180, align="center", baseline="alphabetic", font=FONT,
                                    fontSize=29, dx=shift).encode(x=alt.value(width / 2), y=alt.value(yy))


def minor_log(lo, hi):
    return [d * 10.0 ** k for k in range(lo, hi) for d in range(2, 10)]


# ------------------------------------------------------------------ panel 1 x-rays
S1 = alt.Scale(type="log", domain=[1e-10, 1e-3], reverse=True, nice=False)
CUR["s"] = S1
L1 = []
L1 += hgrid(W1)
L1.append(vgrid([1e-7, 1e-8, 1e-9], S1, "#b4b4b4", [4, 5]))
L1.append(vgrid([10.0 ** e for e in FLARE_EXP], S1, "black", [2, 4], 1.4))
L1.append(line_from_df(pair_df(XL), "black"))
L1.append(line_from_df(pair_df(XS), "#0000ff"))
fl = pd.DataFrame({"v": [10.0 ** e for e in FLARE_EXP], "name": FLARE_NAMES})
L1.append(alt.Chart(fl).mark_text(angle=270, align="right", baseline="bottom", font=FONT, fontSize=13,
                                  color="#7a7a7a", dy=-2).encode(x=X(S1), y=alt.value(9), text="name:N"))
L1 += time_ticks(W1)
L1.append(alt.Chart(pd.DataFrame({"t": [24]})).mark_rule(color="black", strokeWidth=2.5).encode(
    y=Y, x=alt.value(-9), x2=alt.value(4)))
L1 += value_ticks([10.0 ** e for e in range(-9, -3)], 16, S1)
L1 += value_ticks(minor_log(-10, -3), 8, S1)
L1.append(panel_text(PANEL_TEXT[0], 35))
L1 += legend_layers(LEG1, S1, True)
L1 += log_labels(XRAY_EXP, S1)
L1.append(axis_title(AXIS_TITLES[0], W1))
# page title, cut off by the left edge of the page as in the original
L1.append(alt.Chart(ONE).mark_text(text=TITLE, angle=270, align="center", baseline="alphabetic", font=FONT,
                                   fontSize=36).encode(x=alt.value(-8), y=alt.value(H / 2)))
p1 = alt.layer(*L1).properties(width=W1, height=H)

# ------------------------------------------------------------------ panel 2 particles
S2 = alt.Scale(type="log", domain=[1e-4, 1e5], reverse=True, nice=False)
CUR["s"] = S2
L2 = []
L2 += hgrid(W2)
L2.append(vgrid([10.0 ** e for e in range(-3, 5)], S2, "#b4b4b4", [4, 5]))
e1df = pd.DataFrame({"t": [i * E1_STEP for i in range(len(E1))], "v": [10 ** (v / 100.0) for v in E1], "seg": 0})
L2.append(line_from_df(e1df, "black"))
L2.append(line_from_df(seg_df(I1, FAST), "#a03ca0"))
L2.append(line_from_df(seg_df(A5, FAST), "#00a5a5"))
rows = []
for k, frag in enumerate(A6):
    for t, v in frag:
        rows.append({"t": t, "v": 10 ** v, "seg": k})
L2.append(line_from_df(pd.DataFrame(rows), "#ff00ff"))
L2.append(line_from_df(seg_df(I2, FAST), "#3232a0"))
L2.append(line_from_df(seg_df(I3, FAST), "#2a8c2a"))
L2.append(line_from_df(seg_df(I4, SLOW), "#a02828"))
L2.append(line_from_df(seg_df(I5, SLOW), "#0000ff"))
L2.append(line_from_df(seg_df(I6, FAST), "#00dd00"))
L2.append(line_from_df(seg_df(I7, FAST), "#ff0000"))
L2 += time_ticks(W2)
L2 += value_ticks([10.0 ** e for e in range(-3, 5)], 16, S2)
L2 += value_ticks(minor_log(-4, 5), 8, S2)
L2.append(panel_text(PANEL_TEXT[1], 32))
L2 += legend_layers(LEG2, S2, True)
L2 += log_labels(PART_EXP, S2)
L2.append(axis_title(AXIS_TITLES[1], W2, shift=20))
p2 = alt.layer(*L2).properties(width=W2, height=H)

# ------------------------------------------------------------------ panel 3 magnetic field
S3 = alt.Scale(domain=[-200, 200], reverse=True, nice=False, zero=False)
CUR["s"] = S3
L3 = []
L3 += hgrid(W3, full=False)
L3.append(vgrid([100, -100], S3, "#b4b4b4", [4, 5]))
L3.append(vgrid([0], S3, "#222222", [5, 5], 1.2))
hpdf = pd.DataFrame({"t": [i * HP_STEP for i in range(len(HP))], "v": HP, "seg": 0})
L3.append(line_from_df(hpdf, "black"))
L3.append(alt.Chart(pd.DataFrame({"t": MIDNIGHT_T})).mark_point(shape="triangle-up", filled=True, size=80,
                                                               color="black", opacity=1).encode(
    y=Y, x=alt.value(W3 + 5)))
L3.append(alt.Chart(pd.DataFrame({"t": NOON_T})).mark_point(shape="triangle-up", filled=False, size=80,
                                                           color="black", strokeWidth=1).encode(
    y=Y, x=alt.value(W3 + 5)))
L3 += time_ticks(W3)
L3 += value_ticks([100, 0, -100], 16, S3)
L3.append(panel_text(PANEL_TEXT[2], W3 - 20))
L3 += legend_layers(LEG3, S3, False)
L3 += plain_labels(MAG_LABELS, S3)
L3.append(axis_title(AXIS_TITLES[2], W3, yy=H + 86))
p3 = alt.layer(*L3).properties(width=W3, height=H)

# ------------------------------------------------------------------ panel 4 neutron monitor
S4 = alt.Scale(domain=[80, 120], reverse=True, nice=False, zero=False)
CUR["s"] = S4
L4 = []
L4 += hgrid(W4, full=False)
L4.append(vgrid([110, 90], S4, "#b4b4b4", [4, 5]))
nmdf = pd.DataFrame({"t": list(range(len(NM))), "v": NM, "seg": 0})
L4.append(line_from_df(nmdf, "#333333", 2.5))
L4 += time_ticks(W4)
L4 += value_ticks([110, 100, 90], 16, S4)
L4 += value_ticks([115, 105, 95, 85], 8, S4)
L4.append(panel_text(PANEL_TEXT[3], 35))
L4 += plain_labels(NM_LABELS, S4)
L4.append(axis_title(AXIS_TITLES[3], W4))
tl = pd.DataFrame({"t": TIME_TICKS, "lab": TIME_LABELS})
L4.append(alt.Chart(tl).mark_text(angle=270, align="center", baseline="top", font=FONT, fontSize=23).encode(
    y=Y, x=alt.value(W4 + 11), text="lab:N"))
dl = pd.DataFrame({"t": DAY_T, "lab": DAY_LABELS})
L4.append(alt.Chart(dl).mark_text(angle=270, align="center", baseline="top", font=FONT, fontSize=30).encode(
    y=Y, x=alt.value(W4 + 35), text="lab:N"))
L4.append(alt.Chart(ONE).mark_text(text=MONTH_LABEL, angle=270, align="left", baseline="top", font=FONT,
                                   fontSize=35).encode(x=alt.value(W4 + 70), y=alt.value(H + 3)))
L4.append(alt.Chart(ONE).mark_text(text=TIME_TITLE, angle=270, align="center", baseline="top", font=FONT,
                                   fontSize=31).encode(x=alt.value(W4 + 67), y=alt.value(H / 2)))
p4 = alt.layer(*L4).properties(width=W4, height=H)

# ------------------------------------------------------------------ assemble
chart = alt.hconcat(p1, p2, p3, p4, spacing=13, bounds="flush").properties(
    padding={"left": -19, "top": 2, "right": 0, "bottom": 0}, background="white"
).configure_view(stroke="black", strokeWidth=1.5)

chart.save("out.html", embed_options={"renderer": "svg", "actions": False})
